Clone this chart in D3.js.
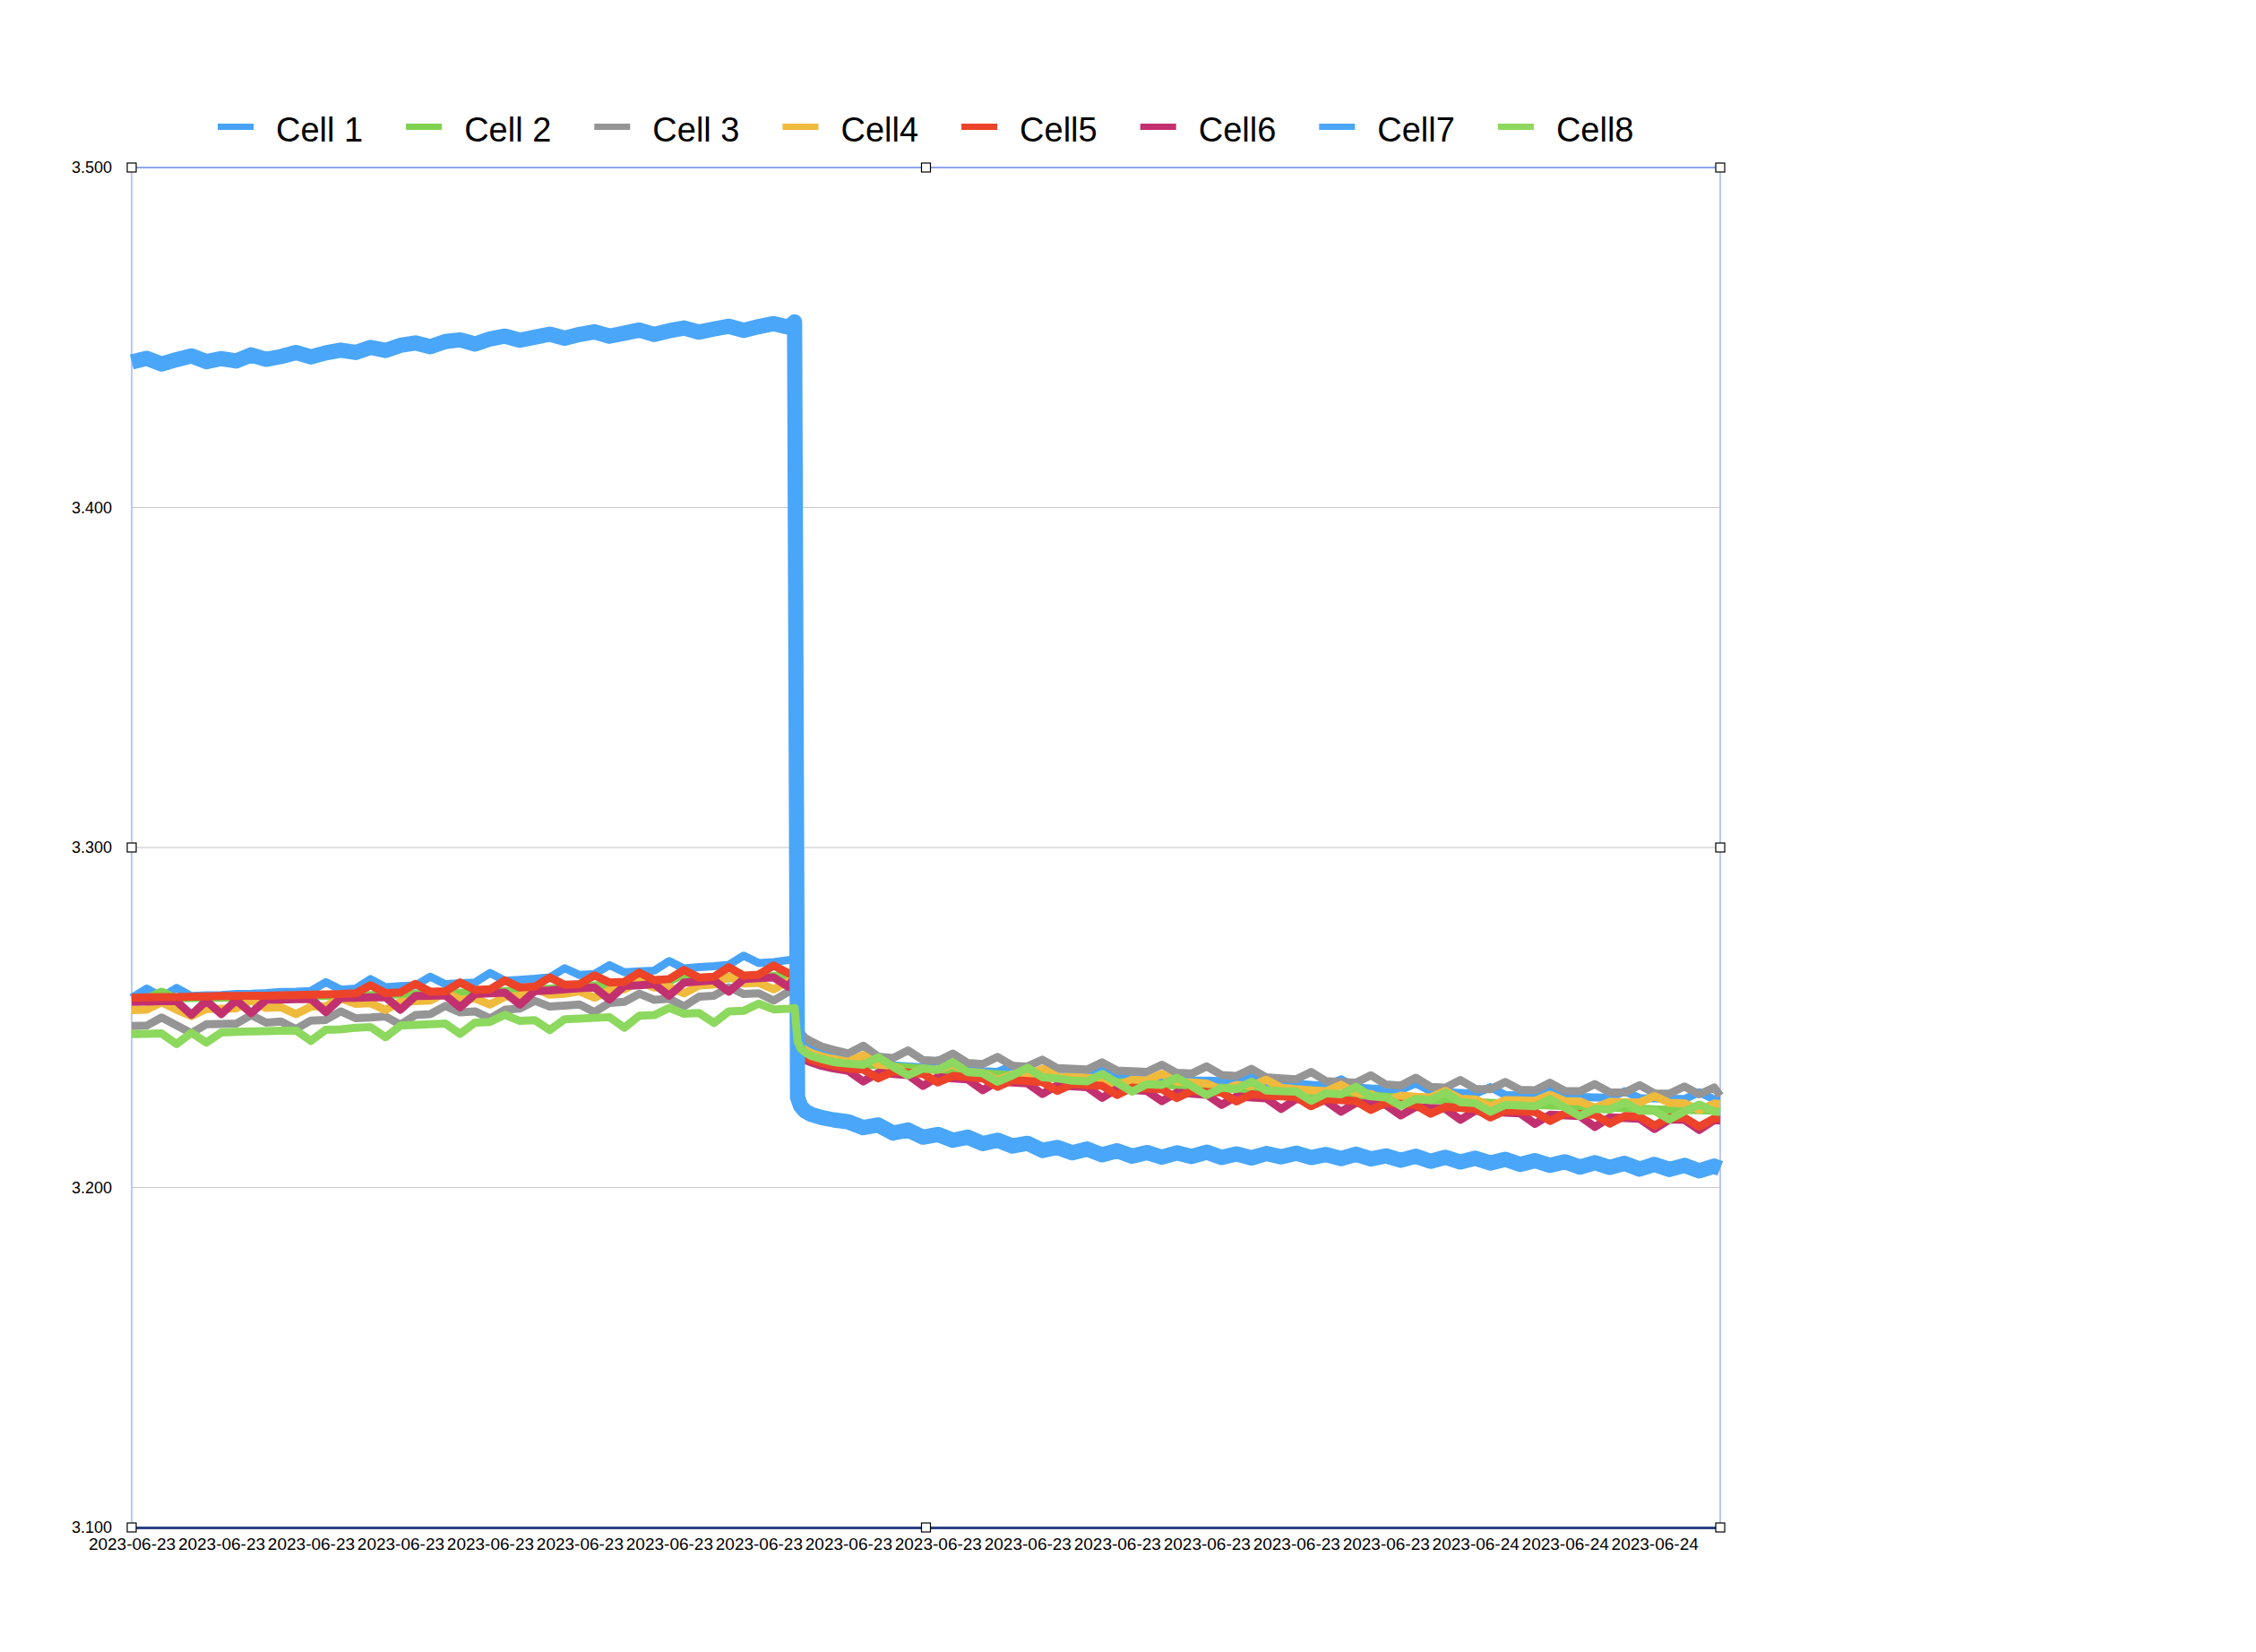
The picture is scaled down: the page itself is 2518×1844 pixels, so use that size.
<!DOCTYPE html>
<html>
<head>
<meta charset="utf-8">
<script src="https://cdn.jsdelivr.net/npm/d3@7"></script>
<style>
  body { margin: 0; background: #ffffff; }
  text { font-family: Helvetica, "Liberation Sans", Arial, sans-serif; }
</style>
</head>
<body>
<div id="chart"></div>
<script>

// sample times, minutes after 2023-06-23 09:20
var sampleMinutes = [
    0, 10, 20, 30, 40, 50, 60, 70, 80, 90, 100, 110, 120, 130, 140,
    150, 160, 170, 180, 190, 200, 210, 220, 230, 240, 250, 260, 270, 280, 290,
    300, 310, 320, 330, 340, 350, 360, 370, 380, 390, 400, 410, 420, 430, 440,
    444, 446, 448, 451, 455, 462, 470,
    480, 490, 500, 510, 520, 530, 540, 550, 560, 570, 580, 590, 600, 610, 620,
    630, 640, 650, 660, 670, 680, 690, 700, 710, 720, 730, 740, 750, 760, 770,
    780, 790, 800, 810, 820, 830, 840, 850, 860, 870, 880, 890, 900, 910, 920,
    930, 940, 950, 960, 970, 980, 990, 1000, 1010, 1020, 1030, 1040, 1050, 1060, 1064
];

// x axis ticks (one per hour) and their labels
var tickMinutes = [0, 60, 120, 180, 240, 300, 360, 420, 480, 540, 600, 660, 720, 780, 840, 900, 960, 1020];
var tickLabels = [
    "2023-06-23", "2023-06-23", "2023-06-23", "2023-06-23", "2023-06-23", "2023-06-23",
    "2023-06-23", "2023-06-23", "2023-06-23", "2023-06-23", "2023-06-23", "2023-06-23",
    "2023-06-23", "2023-06-23", "2023-06-23", "2023-06-24", "2023-06-24", "2023-06-24"
];

var yTicks = [3.1, 3.2, 3.3, 3.4, 3.5];

var seriesNames = ["Cell 1", "Cell 2", "Cell 3", "Cell4", "Cell5", "Cell6", "Cell7", "Cell8"];
var seriesColors = ["#48a3f7", "#7fd24f", "#959595", "#f0ba3d", "#ec4329", "#c3306f", "#4aa6f8", "#8dd85e"];

// cell voltages in mV
var cell1Mv = [
    3255.8, 3258.5, 3256.0, 3258.7, 3256.3, 3256.5, 3256.6, 3256.9, 3257.0, 3257.2, 3257.5, 3257.6, 3257.8, 3260.4, 3258.2,
    3258.5, 3261.3, 3258.9, 3259.2, 3259.4, 3262.0, 3259.8, 3260.1, 3260.3, 3263.1, 3260.8, 3261.1, 3261.4, 3261.8, 3264.5,
    3262.5, 3262.8, 3265.4, 3263.3, 3263.6, 3263.8, 3266.6, 3264.4, 3264.8, 3265.1, 3265.5, 3268.2, 3266.0, 3266.3, 3266.9,
    3267.2, 3245.5, 3243.2, 3241.8, 3240.8, 3239.5, 3238.4,
    3237.2, 3236.7, 3238.6, 3235.9, 3235.6, 3235.3, 3237.4, 3234.8, 3234.5, 3234.2, 3234.0, 3235.9, 3233.6, 3233.3, 3233.1,
    3232.9, 3232.7, 3234.6, 3232.3, 3232.1, 3231.9, 3231.8, 3233.7, 3231.5, 3231.4, 3231.3, 3231.1, 3233.0, 3230.9, 3230.8,
    3230.5, 3230.2, 3229.9, 3231.8, 3229.4, 3229.1, 3228.9, 3228.7, 3230.6, 3228.3, 3228.0, 3227.8, 3227.6, 3229.5, 3227.2,
    3227.0, 3226.9, 3228.8, 3226.7, 3226.6, 3226.5, 3226.4, 3228.3, 3226.3, 3226.2, 3226.1, 3226.0, 3228.0, 3225.9, 3225.9
];
var cell2Mv = [
    3255.4, 3255.5, 3257.6, 3255.6, 3255.7, 3255.8, 3255.8, 3255.9, 3256.0, 3256.0, 3256.1, 3256.2, 3256.3, 3256.3, 3256.4,
    3256.5, 3256.6, 3256.7, 3256.8, 3256.9, 3257.0, 3257.1, 3257.3, 3257.4, 3257.6, 3257.8, 3258.0, 3258.2, 3258.5, 3258.8,
    3259.2, 3259.4, 3259.6, 3259.9, 3260.1, 3260.4, 3260.6, 3262.8, 3261.0, 3261.2, 3261.5, 3261.7, 3261.9, 3262.2, 3262.5,
    3262.8, 3243.0, 3240.8, 3239.6, 3238.8, 3237.8, 3236.9,
    3236.7, 3236.3, 3235.9, 3235.6, 3235.3, 3235.0, 3234.6, 3234.2, 3233.9, 3233.6, 3233.3, 3233.0, 3232.7, 3232.4, 3232.1,
    3231.8, 3231.5, 3231.3, 3231.0, 3230.8, 3230.5, 3230.3, 3230.0, 3229.8, 3229.5, 3229.3, 3229.0, 3228.8, 3228.6, 3228.4,
    3228.2, 3228.0, 3227.8, 3227.5, 3227.2, 3227.0, 3226.7, 3226.4, 3226.1, 3225.8, 3225.5, 3225.3, 3225.1, 3224.9, 3224.7,
    3224.5, 3224.3, 3224.1, 3224.0, 3223.8, 3223.6, 3223.5, 3223.3, 3223.2, 3223.0, 3222.9, 3222.8, 3222.7, 3222.6, 3222.5
];
var cell3Mv = [
    3247.5, 3247.6, 3250.0, 3247.7, 3245.4, 3248.0, 3248.1, 3248.2, 3250.7, 3248.5, 3248.8, 3246.6, 3249.1, 3249.3, 3251.8,
    3249.8, 3250.0, 3250.3, 3247.9, 3250.7, 3251.0, 3253.4, 3251.5, 3251.8, 3249.7, 3252.3, 3252.6, 3254.9, 3253.2, 3253.5,
    3253.8, 3251.6, 3254.3, 3254.6, 3257.0, 3255.2, 3255.5, 3253.3, 3256.1, 3256.4, 3258.9, 3256.9, 3257.1, 3255.0, 3257.6,
    3257.8, 3247.0, 3245.5, 3244.0, 3243.0, 3241.5, 3240.5,
    3239.4, 3241.7, 3238.5, 3238.1, 3240.3, 3237.5, 3237.2, 3239.4, 3236.6, 3236.3, 3238.4, 3235.8, 3235.6, 3237.6, 3235.1,
    3234.9, 3234.7, 3236.8, 3234.4, 3234.2, 3234.0, 3236.1, 3233.7, 3233.5, 3235.6, 3233.1, 3232.8, 3234.9, 3232.4, 3232.1,
    3231.8, 3234.0, 3231.3, 3231.0, 3230.8, 3233.0, 3230.3, 3230.0, 3232.3, 3229.6, 3229.4, 3231.6, 3229.0, 3228.9, 3231.0,
    3228.7, 3228.6, 3230.8, 3228.4, 3228.3, 3230.4, 3228.0, 3227.9, 3230.1, 3227.7, 3227.6, 3229.7, 3227.4, 3229.4, 3227.0
];
var cell4Mv = [
    3252.2, 3252.3, 3254.5, 3252.3, 3250.4, 3252.5, 3252.6, 3252.7, 3255.0, 3252.8, 3253.0, 3251.0, 3253.2, 3253.3, 3255.6,
    3254.0, 3254.2, 3252.2, 3254.6, 3254.8, 3255.0, 3257.3, 3255.3, 3255.6, 3253.8, 3256.1, 3256.3, 3258.6, 3256.7, 3257.0,
    3257.7, 3255.8, 3258.0, 3258.3, 3260.6, 3258.8, 3259.0, 3257.1, 3259.4, 3259.7, 3262.0, 3260.0, 3260.2, 3258.3, 3260.7,
    3261.5, 3244.0, 3241.8, 3240.5, 3239.6, 3238.6, 3237.8,
    3237.0, 3238.9, 3236.1, 3235.7, 3233.4, 3234.9, 3234.5, 3236.2, 3233.9, 3233.7, 3231.6, 3233.2, 3233.0, 3234.9, 3232.6,
    3232.5, 3232.3, 3232.1, 3230.0, 3231.7, 3231.5, 3233.4, 3231.1, 3230.9, 3230.6, 3228.6, 3230.2, 3229.9, 3231.7, 3229.3,
    3228.9, 3228.6, 3228.3, 3230.2, 3227.8, 3227.5, 3225.4, 3227.0, 3226.7, 3226.5, 3228.4, 3226.1, 3225.9, 3223.9, 3225.7,
    3225.6, 3225.5, 3227.3, 3225.4, 3225.3, 3223.4, 3225.2, 3225.1, 3225.0, 3226.9, 3224.9, 3224.8, 3222.8, 3224.7, 3224.6
];
var cell5Mv = [
    3255.8, 3255.9, 3256.0, 3256.0, 3256.1, 3256.2, 3256.3, 3256.3, 3256.4, 3256.4, 3256.5, 3256.6, 3256.7, 3256.8, 3256.9,
    3257.1, 3259.5, 3257.2, 3257.4, 3259.9, 3257.6, 3257.7, 3260.3, 3258.1, 3258.3, 3260.9, 3258.8, 3259.1, 3261.8, 3259.6,
    3259.8, 3262.4, 3260.3, 3260.5, 3263.2, 3261.0, 3261.3, 3264.0, 3261.7, 3262.0, 3264.8, 3262.3, 3262.6, 3265.3, 3263.0,
    3263.2, 3241.0, 3239.4, 3238.3, 3237.6, 3236.6, 3235.8,
    3235.0, 3234.7, 3232.1, 3234.1, 3233.8, 3233.4, 3230.9, 3232.8, 3232.5, 3232.1, 3229.6, 3231.6, 3231.3, 3231.0, 3228.4,
    3230.4, 3230.1, 3229.9, 3227.2, 3229.4, 3229.1, 3228.9, 3226.3, 3228.4, 3228.1, 3227.9, 3225.3, 3227.4, 3227.1, 3226.8,
    3226.6, 3223.9, 3226.0, 3225.7, 3225.4, 3222.8, 3224.9, 3224.6, 3224.3, 3221.7, 3223.7, 3223.4, 3223.1, 3220.6, 3222.6,
    3222.4, 3222.2, 3219.6, 3221.8, 3221.6, 3221.4, 3218.8, 3221.0, 3220.8, 3218.2, 3220.6, 3220.5, 3217.9, 3220.3, 3220.3
];
var cell6Mv = [
    3254.6, 3254.7, 3254.8, 3254.8, 3250.8, 3254.9, 3251.0, 3255.1, 3251.3, 3255.2, 3255.3, 3255.4, 3255.5, 3251.6, 3255.7,
    3255.8, 3255.9, 3256.0, 3252.3, 3256.3, 3256.4, 3256.5, 3253.0, 3256.9, 3257.1, 3257.3, 3253.8, 3257.8, 3258.0, 3258.3,
    3258.6, 3258.8, 3255.3, 3259.3, 3259.5, 3259.8, 3256.4, 3260.3, 3260.6, 3260.9, 3257.6, 3261.3, 3261.6, 3261.8, 3259.0,
    3262.0, 3240.2, 3238.6, 3237.5, 3236.8, 3235.8, 3235.0,
    3234.3, 3231.2, 3233.7, 3233.4, 3233.1, 3229.9, 3232.5, 3232.1, 3231.8, 3228.6, 3231.2, 3230.9, 3230.6, 3227.5, 3230.1,
    3229.8, 3229.5, 3226.4, 3229.0, 3228.7, 3228.4, 3225.4, 3227.9, 3227.6, 3227.3, 3224.3, 3226.8, 3226.5, 3226.2, 3223.1,
    3226.0, 3225.7, 3225.4, 3222.3, 3224.9, 3224.6, 3224.3, 3221.2, 3223.7, 3223.4, 3223.1, 3219.9, 3222.6, 3222.3, 3222.0,
    3221.8, 3218.7, 3221.4, 3221.2, 3221.0, 3217.8, 3220.6, 3220.4, 3220.2, 3217.2, 3220.0, 3219.9, 3216.9, 3219.8, 3219.7
];
var cell7Mv = [
    3442.8, 3443.9, 3442.2, 3443.5, 3444.6, 3442.9, 3443.8, 3443.1, 3444.9, 3443.6, 3444.4, 3445.6, 3444.3, 3445.5, 3446.3,
    3445.6, 3447.1, 3446.2, 3447.7, 3448.4, 3447.3, 3448.8, 3449.3, 3448.1, 3449.6, 3450.4, 3449.2, 3450.1, 3451.0, 3449.8,
    3450.9, 3451.7, 3450.4, 3451.3, 3452.2, 3450.9, 3452.0, 3452.8, 3451.6, 3452.5, 3453.3, 3452.1, 3453.2, 3454.1, 3453.0,
    3454.6, 3226.5, 3224.0, 3222.5, 3221.5, 3220.6, 3219.9,
    3219.3, 3217.6, 3218.4, 3216.0, 3216.9, 3214.8, 3215.6, 3213.9, 3214.8, 3212.9, 3213.9, 3212.2, 3213.0, 3210.9, 3211.8,
    3210.2, 3211.3, 3209.6, 3210.8, 3209.2, 3210.3, 3208.9, 3210.2, 3209.1, 3210.4, 3208.8, 3209.9, 3208.7, 3210.0, 3209.0,
    3210.1, 3208.8, 3209.7, 3208.5, 3209.8, 3208.4, 3209.3, 3208.0, 3209.2, 3207.7, 3208.9, 3207.5, 3208.6, 3207.2, 3208.3,
    3206.8, 3207.9, 3206.5, 3207.6, 3206.0, 3207.3, 3205.9, 3207.1, 3205.4, 3206.8, 3205.3, 3206.5, 3204.9, 3206.3, 3205.6
];
var cell8Mv = [
    3245.1, 3245.2, 3245.3, 3242.2, 3245.5, 3242.6, 3245.6, 3245.8, 3245.9, 3246.0, 3246.1, 3246.2, 3243.1, 3246.4, 3246.5,
    3247.0, 3247.2, 3244.2, 3247.6, 3247.8, 3248.0, 3248.2, 3245.2, 3248.5, 3248.7, 3250.8, 3249.0, 3249.2, 3246.3, 3249.5,
    3249.7, 3249.9, 3250.1, 3247.0, 3250.5, 3250.7, 3252.8, 3251.1, 3251.3, 3248.4, 3251.8, 3252.0, 3254.1, 3252.4, 3252.6,
    3252.8, 3243.0, 3240.9, 3239.8, 3238.7, 3237.8, 3236.9,
    3236.4, 3236.1, 3238.3, 3235.5, 3233.0, 3235.0, 3234.6, 3236.8, 3233.9, 3233.6, 3231.1, 3233.0, 3235.2, 3232.4, 3232.1,
    3231.4, 3231.2, 3233.4, 3230.8, 3228.2, 3230.4, 3230.2, 3232.3, 3229.8, 3227.2, 3229.3, 3229.0, 3231.1, 3228.5, 3228.3,
    3228.2, 3225.5, 3227.7, 3227.4, 3229.6, 3226.8, 3226.5, 3224.0, 3226.0, 3225.7, 3227.9, 3225.1, 3224.8, 3222.3, 3224.3,
    3224.1, 3223.9, 3226.0, 3223.5, 3221.0, 3223.1, 3222.9, 3225.0, 3222.6, 3222.5, 3220.0, 3222.4, 3224.4, 3222.3, 3222.2
];

var allCellsMv = [cell1Mv, cell2Mv, cell3Mv, cell4Mv, cell5Mv, cell6Mv, cell7Mv, cell8Mv];

var width = 2518;
var height = 1844;

var marginTop = 187;
var marginRight = 598;
var marginBottom = 139;
var marginLeft = 147;

// Cell6 goes under Cell5 so the red trace stays on top like in the original
var drawOrder = [0, 1, 2, 3, 5, 4, 6, 7];

function chart(container) {

    var series = seriesNames.map(function(name, i) {
        return {
            name: name,
            color: seriesColors[i],
            values: sampleMinutes.map(function(m, j) {
                return { minute: m, volt: allCellsMv[i][j] / 1000 };
            })
        };
    });

    // Create the SVG container and put it on the page right away,
    // the legend needs real text widths.
    const svg = d3.select(container).append("svg")
        .attr("width", width)
        .attr("height", height)
        .style("display", "block")
        .style("background", "#ffffff");

    // x is minutes since the first sample
    var x = d3.scaleLinear()
        .domain([0, 1064])
        .range([marginLeft, width - marginRight]);

    var y = d3.scaleLinear()
        .domain([3.1, 3.5])
        .range([height - marginBottom, marginTop]);

    // horizontal grid lines
    svg.append("g")
        .selectAll("line")
        .data(yTicks.slice(1, -1))
        .join("line")
        .attr("x1", marginLeft)
        .attr("x2", width - marginRight)
        .attr("y1", d => y(d))
        .attr("y2", d => y(d))
        .attr("stroke", "#c8c8c8")
        .attr("stroke-width", 1.2);

    // frame: light blue sides and top
    svg.append("line")
        .attr("x1", marginLeft).attr("x2", width - marginRight)
        .attr("y1", y(3.5)).attr("y2", y(3.5))
        .attr("stroke", "#8fa6ee").attr("stroke-width", 2);
    svg.append("line")
        .attr("x1", marginLeft).attr("x2", marginLeft)
        .attr("y1", y(3.5)).attr("y2", y(3.1))
        .attr("stroke", "#a3b6f4").attr("stroke-width", 1.5);
    svg.append("line")
        .attr("x1", width - marginRight).attr("x2", width - marginRight)
        .attr("y1", y(3.5)).attr("y2", y(3.1))
        .attr("stroke", "#a3b6f4").attr("stroke-width", 1.5);

    // the cell traces
    var line = d3.line()
        .defined(d => d.volt != null && !isNaN(d.volt))
        .x(d => x(d.minute))
        .y(d => y(d.volt));

    svg.append("g")
        .attr("fill", "none")
        .selectAll("path")
        .data(drawOrder.map(i => series[i]))
        .join("path")
        .attr("stroke", d => d.color)
        .attr("stroke-width", d => d.name == "Cell7" ? 17 : 9)
        .attr("stroke-linejoin", "round")
        .attr("d", d => line(d.values));

    //Add the x-axis.
    const gx = svg.append("g")
        .attr("transform", `translate(0,${height - marginBottom})`)
        .call(d3.axisBottom(x)
            .tickValues(tickMinutes)
            .tickFormat((d, i) => tickLabels[i])
            .tickSize(0)
            .tickPadding(12));
    gx.select(".domain")
        .attr("stroke", "#2b4282")
        .attr("stroke-width", 3);
    gx.selectAll("text")
        .attr("font-size", 19)
        .attr("font-family", "Helvetica, 'Liberation Sans', Arial, sans-serif")
        .attr("fill", "#000");

    //Add the y-axis.
    const gy = svg.append("g")
        .attr("transform", `translate(${marginLeft},0)`)
        .call(d3.axisLeft(y)
            .tickValues(yTicks)
            .tickFormat(d3.format(".3f"))
            .tickSize(0)
            .tickPadding(22));
    gy.select(".domain").remove();
    gy.selectAll("text")
        .attr("font-size", 18)
        .attr("font-family", "Helvetica, 'Liberation Sans', Arial, sans-serif")
        .attr("fill", "#000");

    // selection handles round the plot area
    var xMid = (x.range()[0] + x.range()[1]) / 2;
    var yMid = y(3.3);
    var handles = [
        [x.range()[0], y(3.5)], [xMid, y(3.5)], [x.range()[1], y(3.5)],
        [x.range()[0], yMid], [x.range()[1], yMid],
        [x.range()[0], y(3.1)], [xMid, y(3.1)], [x.range()[1], y(3.1)]
    ];
    svg.append("g")
        .selectAll("rect")
        .data(handles)
        .join("rect")
        .attr("x", d => d[0] - 5)
        .attr("y", d => d[1] - 5)
        .attr("width", 10)
        .attr("height", 10)
        .attr("fill", "#ffffff")
        .attr("stroke", "#000")
        .attr("stroke-width", 1.2);

    // legend, laid out left to right
    var legend = svg.append("g");
    var lx = 243;
    series.forEach(function(s) {
        legend.append("rect")
            .attr("x", lx)
            .attr("y", 138)
            .attr("width", 40)
            .attr("height", 7)
            .attr("fill", s.color);
        var t = legend.append("text")
            .attr("x", lx + 65)
            .attr("y", 158)
            .attr("font-size", 38)
            .attr("fill", "#000")
            .text(s.name);
        lx += 65 + t.node().getComputedTextLength() + 48;
    });
}

chart("#chart");
</script>
</body>
</html>
